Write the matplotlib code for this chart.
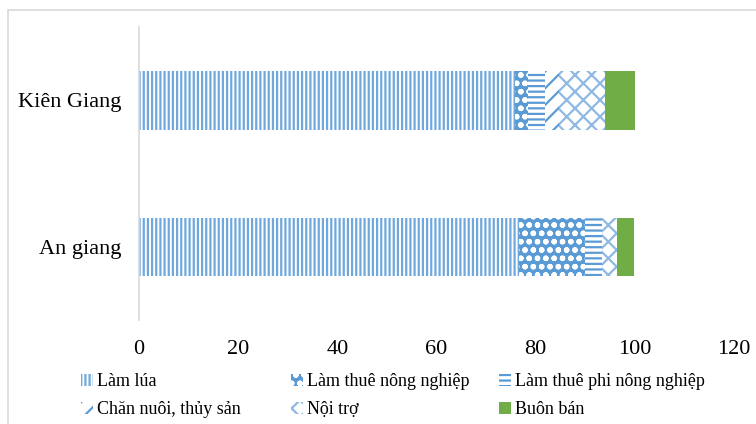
import matplotlib.pyplot as plt
import matplotlib.patches as mpatches
import numpy as np

plt.rcParams['font.family'] = ['Liberation Serif', 'DejaVu Serif']
plt.rcParams['hatch.linewidth'] = 1.6

provinces = ['An giang', 'Kiên Giang']
activities = ['Làm lúa', 'Làm thuê nông nghiệp', 'Làm thuê phi nông nghiệp',
              'Chăn nuôi, thủy sản', 'Nội trợ', 'Buôn bán']
# share of households (%) per activity, order: An giang, Kiên Giang
lam_lua = [76.6, 75.8]
thue_nong_nghiep = [13.3, 2.6]
thue_phi_nong_nghiep = [3.4, 3.4]
chan_nuoi = [0.0, 3.0]
noi_tro = [3.2, 9.1]
buon_ban = [3.4, 6.1]
xticks = [0, 20, 40, 60, 80, 100, 120]

series = [lam_lua, thue_nong_nghiep, thue_phi_nong_nghiep, chan_nuoi, noi_tro, buon_ban]
blue = '#5B9BD5'
styles = [
    dict(facecolor='white', edgecolor='#6FA8DC', hatch='||||'),
    dict(facecolor=blue, edgecolor='white', hatch='oo'),
    dict(facecolor='white', edgecolor=blue, hatch='---'),
    dict(facecolor='white', edgecolor=blue, hatch='//'),
    dict(facecolor='white', edgecolor='#8DB9E4', hatch='xx'),
    dict(facecolor='#70AD47', edgecolor='#70AD47', hatch=None),
]

fig = plt.figure(figsize=(7.56, 4.24), dpi=100)
ax = fig.add_axes([139 / 756, 0.245, 595 / 756, 0.691])

# light frame around the chart area
fig.patches.append(mpatches.Rectangle((8 / 756, -0.1), 1.2, 1 - 10 / 424 + 0.1,
                                      transform=fig.transFigure, fill=False,
                                      edgecolor='#D9D9D9', linewidth=1.2))

y = np.arange(len(provinces))
left = np.zeros(len(provinces))
handles = []
for name, vals, st in zip(activities, series, styles):
    ax.barh(y, vals, left=left, height=0.4, linewidth=0, label=name, **st)
    left += np.array(vals)
    handles.append(mpatches.Patch(label=name, linewidth=0, **st))

ax.set_xlim(0, 120)
ax.set_ylim(-0.5, 1.5)
ax.set_xticks(xticks)
ax.set_yticks(y)
ax.set_yticklabels(provinces)
ax.tick_params(length=0, labelsize=16, pad=14)
ax.tick_params(axis='y', pad=13)
for s in ['top', 'right', 'bottom']:
    ax.spines[s].set_visible(False)
ax.spines['left'].set_color('#D9D9D9')
ax.spines['left'].set_linewidth(1.2)

# legend laid out row by row in three equal columns
col_x = [70 / 756, 280 / 756, 488 / 756]
for i, x0 in enumerate(col_x):
    leg = fig.legend(handles=[handles[i], handles[i + 3]], loc='lower left',
                     bbox_to_anchor=(x0, -0.012), ncol=1, frameon=False,
                     fontsize=13, handlelength=0.7, handleheight=0.7,
                     handletextpad=0.2, labelspacing=0.6, borderaxespad=0.2)

fig.savefig('out.png', dpi=100)
